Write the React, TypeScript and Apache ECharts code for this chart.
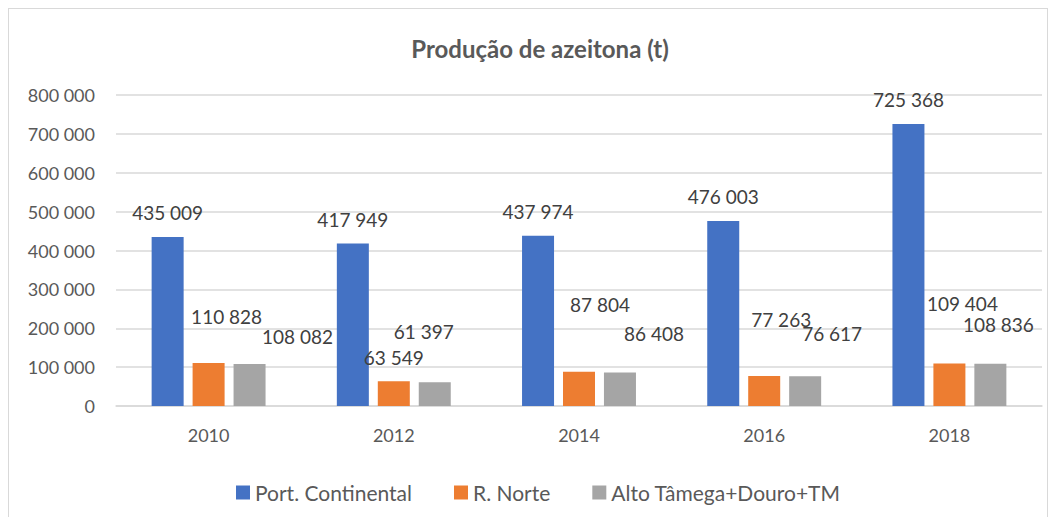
import React, { useEffect, useRef } from "react";
import * as echarts from "echarts";

const categories = ["2010", "2012", "2014", "2016", "2018"];
const seriesNames = ["Port. Continental", "R. Norte", "Alto Tâmega+Douro+TM"];
const portContinental = [435009, 417949, 437974, 476003, 725368];
const rNorte = [110828, 63549, 87804, 77263, 109404];
const altoTamega = [108082, 61397, 86408, 76617, 108836];
const yTicks = { min: 0, max: 800000, interval: 100000 };

// label displacement (px) relative to default top position, as in the reference
const blueLabelOffsets = [[0, 0], [0, 0], [0, 0], [0, 0], [0, 0]];
const orangeLabelOffsets = [[18, -22], [0, 1], [21, -43], [17, -32], [13, -35]];
const grayLabelOffsets = [[48, -3], [-11, -26], [34, -14], [27, -18], [8, -15]];

const colors = ["#4472C4", "#ED7D31", "#A5A5A5"];
const FONT = "Lato, 'Open Sans', sans-serif";

function fmt(v: number): string {
  return String(v).replace(/\B(?=(\d{3})+(?!\d))/g, " ");
}

function makeSeries(name: string, values: number[], offsets: number[][], color: string) {
  return {
    name,
    type: "bar",
    barWidth: 32,
    barGap: "28%",
    itemStyle: { color },
    label: {
      show: true,
      position: "top",
      distance: 15,
      color: "#404040",
      fontSize: 19,
      lineHeight: 19,
      fontFamily: FONT,
      formatter: (p: any) => fmt(p.value),
    },
    data: values.map((v, i) => ({
      value: v,
      label: { offset: offsets[i] },
    })),
  };
}

export default function App() {
  const ref = useRef<HTMLDivElement>(null);
  useEffect(() => {
    if (!ref.current) return;
    const chart = echarts.init(ref.current, undefined, { renderer: "svg" });
    chart.setOption({
      animation: false,
      backgroundColor: "#ffffff",
      title: {
        text: "Produção de azeitona (t)",
        left: 526,
        textAlign: "center",
        top: 22,
        textStyle: {
          color: "#595959",
          fontSize: 24,
          fontWeight: "bold",
          fontFamily: FONT,
        },
      },
      legend: {
        data: seriesNames,
        left: 222,
        top: 468,
        itemWidth: 14,
        itemHeight: 14,
        itemGap: 42,
        icon: "rect",
        textStyle: { color: "#595959", fontSize: 21, fontFamily: FONT },
      },
      grid: { left: 107, right: 5, top: 86, height: 311 },
      xAxis: {
        type: "category",
        data: categories,
        axisLine: { lineStyle: { color: "#d9d9d9", width: 1.5 } },
        axisTick: { show: false },
        axisLabel: { color: "#595959", fontSize: 18, fontFamily: FONT, margin: 20 },
      },
      yAxis: {
        type: "value",
        min: yTicks.min,
        max: yTicks.max,
        interval: yTicks.interval,
        axisLine: { show: false },
        axisTick: { show: false },
        splitLine: { lineStyle: { color: "#d9d9d9", width: 1.5 } },
        axisLabel: {
          color: "#595959",
          fontSize: 18,
          fontFamily: FONT,
          margin: 21,
          formatter: (v: number) => fmt(v),
        },
      },
      series: [
        makeSeries(seriesNames[0], portContinental, blueLabelOffsets, colors[0]),
        makeSeries(seriesNames[1], rNorte, orangeLabelOffsets, colors[1]),
        makeSeries(seriesNames[2], altoTamega, grayLabelOffsets, colors[2]),
      ],
    });
    return () => chart.dispose();
  }, []);
  return (
    <div
      style={{
        width: 1040,
        height: 520,
        border: "1px solid #d9d9d9",
        boxSizing: "border-box",
        background: "#fff",
      }}
    >
      <div ref={ref} style={{ width: 1038, height: 518 }} />
    </div>
  );
}
